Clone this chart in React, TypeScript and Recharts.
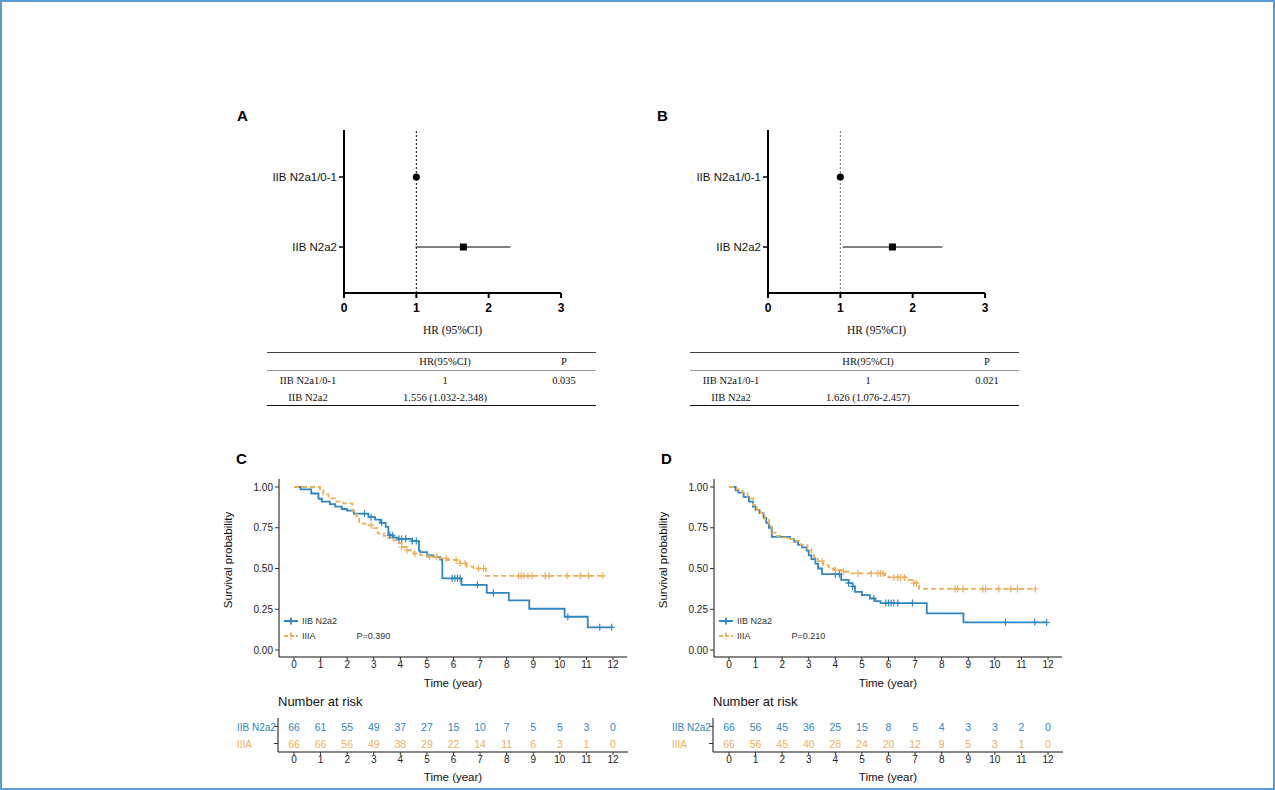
import React from 'react';
import {
  ScatterChart,
  Scatter,
  ComposedChart,
  Line,
  XAxis,
  YAxis,
  ReferenceLine,
  ErrorBar,
  Label,
} from 'recharts';

const BLUE = '#2F86C2';
const ORANGE = '#EDB05A';
const SANS = '"Liberation Sans", Arial, sans-serif';
const SERIF = '"Liberation Serif", "Times New Roman", serif';

// forest plots (A, B)
const forestRows = ['IIB N2a1/0-1', 'IIB N2a2'];
const hrA = [1, 1.65];
const ciLowA = [1, 0.99];
const ciHighA = [1, 2.3];
const hrB = [1, 1.72];
const ciLowB = [1, 1.03];
const ciHighB = [1, 2.41];
const forestTicks = [0, 1, 2, 3];

const tableHrA = ['1', '1.556 (1.032-2.348)'];
const tablePA = '0.035';
const tableHrB = ['1', '1.626 (1.076-2.457)'];
const tablePB = '0.021';

// survival curves (C, D): [time in years, survival]
const years = [0, 1, 2, 3, 4, 5, 6, 7, 8, 9, 10, 11, 12];
const survTicks = [0, 0.25, 0.5, 0.75, 1];
const groups = ['IIB N2a2', 'IIIA'];

const blueC: [number, number][] = [
  [0, 1], [0.25, 0.985], [0.65, 0.96], [0.92, 0.928], [1.05, 0.91], [1.35, 0.895],
  [1.55, 0.88], [1.8, 0.865], [2.0, 0.855], [2.25, 0.837], [2.8, 0.815], [3.05, 0.8],
  [3.25, 0.78], [3.45, 0.755], [3.55, 0.704], [3.75, 0.69], [3.9, 0.682], [4.45, 0.668],
  [4.7, 0.61], [4.75, 0.6], [5.0, 0.58], [5.25, 0.57], [5.5, 0.555], [5.58, 0.44],
  [6.3, 0.4], [7.25, 0.35], [8.08, 0.305], [8.85, 0.253], [10.18, 0.204], [11.05, 0.139],
  [11.95, 0.139],
];
const orangeC: [number, number][] = [
  [0, 1], [0.98, 0.98], [1.1, 0.955], [1.3, 0.93], [1.6, 0.91], [1.85, 0.9],
  [2.2, 0.85], [2.35, 0.82], [2.45, 0.775], [2.75, 0.765], [2.95, 0.748], [3.15, 0.715],
  [3.38, 0.7], [3.5, 0.69], [3.7, 0.672], [3.87, 0.655], [4.05, 0.632], [4.24, 0.612],
  [4.5, 0.592], [4.75, 0.582], [5.0, 0.572], [5.4, 0.562], [5.75, 0.552], [6.25, 0.532],
  [6.5, 0.512], [6.75, 0.5], [7.22, 0.455], [11.62, 0.455],
];
const blueCensC = [2.65, 2.9, 3.3, 3.6, 3.7, 3.95, 4.05, 4.2, 4.45, 4.6, 5.95, 6.05, 6.15, 6.25, 6.9, 7.5, 10.3, 11.5, 11.95];
const orangeCensC = [2.9, 4.05, 4.25, 4.55, 5.1, 5.37, 5.72, 6.1, 6.25, 6.44, 6.94, 7.13, 8.45, 8.55, 8.65, 8.8, 8.95, 9.45, 9.6, 10.27, 10.77, 11.08, 11.62];
const riskBlueC = [66, 61, 55, 49, 37, 27, 15, 10, 7, 5, 5, 3, 0];
const riskOrangeC = [66, 66, 56, 49, 38, 29, 22, 14, 11, 6, 3, 1, 0];

const blueD: [number, number][] = [
  [0, 1], [0.25, 0.98], [0.35, 0.965], [0.55, 0.94], [0.75, 0.91], [0.9, 0.88],
  [1.0, 0.86], [1.15, 0.84], [1.3, 0.81], [1.4, 0.78], [1.5, 0.75], [1.61, 0.694],
  [2.3, 0.68], [2.45, 0.665], [2.6, 0.645], [2.75, 0.63], [2.92, 0.61], [3.0, 0.58],
  [3.1, 0.558], [3.25, 0.53], [3.35, 0.5], [3.5, 0.465], [4.22, 0.43], [4.5, 0.41],
  [4.65, 0.39], [4.74, 0.357], [5.0, 0.337], [5.3, 0.316], [5.5, 0.3], [5.7, 0.288],
  [7.44, 0.225], [8.82, 0.17], [11.95, 0.17],
];
const orangeD: [number, number][] = [
  [0, 1], [0.3, 0.985], [0.5, 0.96], [0.7, 0.93], [0.9, 0.89], [1.05, 0.86],
  [1.2, 0.84], [1.35, 0.8], [1.5, 0.76], [1.6, 0.72], [1.75, 0.7], [2.0, 0.69],
  [2.3, 0.68], [2.5, 0.67], [2.7, 0.645], [2.95, 0.62], [3.1, 0.59], [3.2, 0.57],
  [3.35, 0.545], [3.55, 0.52], [3.75, 0.5], [3.95, 0.49], [4.3, 0.48], [4.6, 0.47],
  [5.85, 0.46], [6.0, 0.445], [6.75, 0.43], [6.95, 0.41], [7.15, 0.375], [11.52, 0.375],
];
const blueCensD = [4.0, 4.15, 4.5, 4.65, 5.45, 5.9, 6.0, 6.1, 6.2, 6.35, 6.9, 10.4, 11.5, 11.95];
const orangeCensD = [3.5, 4.0, 4.3, 4.85, 5.35, 5.6, 5.7, 5.8, 6.2, 6.35, 6.45, 6.6, 6.95, 7.05, 8.5, 8.6, 8.8, 9.55, 9.65, 10.15, 10.6, 10.85, 11.52];
const riskBlueD = [66, 56, 45, 36, 25, 15, 8, 5, 4, 3, 3, 2, 0];
const riskOrangeD = [66, 56, 45, 40, 28, 24, 20, 12, 9, 5, 3, 1, 0];

function survAt(curve: [number, number][], t: number) {
  let s = curve[0][1];
  for (const [x, y] of curve) if (x <= t) s = y;
  return s;
}

const circleShape = (p: any) => <circle cx={p.cx} cy={p.cy} r={3.6} fill="#000" />;
const squareShape = (p: any) => <rect x={p.cx - 3.5} y={p.cy - 3.5} width={7} height={7} fill="#000" />;
const plusShape = (color: string) => (p: any) => (
  <path d={`M${p.cx - 3},${p.cy}h6M${p.cx},${p.cy - 3.5}v7`} stroke={color} strokeWidth={1.2} />
);

function Forest({ left, hr, lo, hi, refColor }: any) {
  const rows = forestRows.map((label, i) => ({ label, hr: hr[i], ci: [hr[i] - lo[i], hi[i] - hr[i]] }));
  return (
    <div style={{ position: 'absolute', left, top: 120 }}>
      <ScatterChart width={360} height={230} margin={{ top: 10, right: 19, bottom: 0, left: 0 }}>
        <XAxis
          type="number"
          dataKey="hr"
          domain={[0, 3]}
          ticks={forestTicks}
          height={57}
          axisLine={{ stroke: '#000', strokeWidth: 2 }}
          tickLine={{ stroke: '#000', strokeWidth: 2 }}
          tickSize={5}
          tickMargin={5}
          tick={{ fill: '#000', fontSize: 12, fontWeight: 700 }}
        >
          <Label value="HR (95%CI)" position="insideBottom" offset={16} style={{ fontFamily: SERIF, fontSize: 11.5, fontWeight: 400, fill: '#111' }} />
        </XAxis>
        <YAxis
          type="category"
          dataKey="label"
          allowDuplicatedCategory={false}
          reversed
          interval={0}
          width={124}
          padding={{ top: 12, bottom: 11 }}
          axisLine={{ stroke: '#000', strokeWidth: 2 }}
          tickLine={{ stroke: '#000', strokeWidth: 1.5 }}
          tickSize={5}
          tickMargin={2}
          tick={{ fill: '#111', fontSize: 11.5 }}
        />
        <ReferenceLine x={1} stroke={refColor} strokeDasharray="2 2" />
        <Scatter data={rows.slice(0, 1)} shape={circleShape} isAnimationActive={false} />
        <Scatter data={rows.slice(1)} shape={squareShape} isAnimationActive={false}>
          <ErrorBar dataKey="ci" direction="x" width={0} stroke="#000" strokeWidth={1} />
        </Scatter>
      </ScatterChart>
    </div>
  );
}

function HrTable({ left, hrs, p }: any) {
  const cell = (text: string, cx: number, cy: number) => (
    <div style={{ position: 'absolute', left: cx - 90, top: cy - 7, width: 180, lineHeight: '14px', textAlign: 'center' }}>{text}</div>
  );
  return (
    <div style={{ position: 'absolute', left, top: 352, width: 329, height: 54, fontFamily: SERIF, fontSize: 10.5, color: '#111' }}>
      <div style={{ position: 'absolute', left: 0, right: 0, top: 0, borderTop: '1px solid #444' }} />
      <div style={{ position: 'absolute', left: 0, right: 0, top: 18, borderTop: '1px solid #999' }} />
      <div style={{ position: 'absolute', left: 0, right: 0, top: 53, borderTop: '1.5px solid #111' }} />
      {cell('HR(95%CI)', 178, 10)}
      {cell('P', 297, 10)}
      {cell(forestRows[0], 41, 29)}
      {cell(hrs[0], 178, 29)}
      {cell(p, 297, 29)}
      {cell(forestRows[1], 41, 46)}
      {cell(hrs[1], 178, 46)}
    </div>
  );
}

function KM({ left, blue, orange, blueCens, orangeCens, pText }: any) {
  const pts = (c: [number, number][]) => c.map(([t, s]) => ({ t, s }));
  const cens = (c: [number, number][], ts: number[]) => ts.map((t) => ({ t, s: survAt(c, t) }));
  const axisText = { fill: '#222', fontSize: 10 };
  return (
    <div style={{ position: 'absolute', left, top: 470 }}>
      <ComposedChart width={420} height={220} margin={{ top: 9, right: 13, bottom: 0, left: 0 }}>
        <XAxis
          type="number"
          dataKey="t"
          domain={[0, 12]}
          ticks={years}
          padding={{ left: 15, right: 14 }}
          height={33}
          axisLine={{ stroke: '#111' }}
          tickLine={{ stroke: '#333' }}
          tickSize={3}
          tickMargin={1}
          tick={axisText}
        >
          <Label value="Time (year)" position="insideBottom" offset={3} style={{ fontSize: 11.5, fill: '#111' }} />
        </XAxis>
        <YAxis
          type="number"
          domain={[0, 1]}
          ticks={survTicks}
          tickFormatter={(v: number) => v.toFixed(2)}
          width={59}
          padding={{ top: 8, bottom: 7 }}
          axisLine={{ stroke: '#111' }}
          tickLine={{ stroke: '#333' }}
          tickSize={4}
          tickMargin={2}
          tick={axisText}
        >
          <Label value="Survival probability" angle={-90} position="insideLeft" offset={8} dy={-8} style={{ textAnchor: 'middle', fontSize: 11.5, fill: '#111' }} />
        </YAxis>
        <Line data={pts(blue)} dataKey="s" type="stepAfter" stroke={BLUE} strokeWidth={1.8} dot={false} isAnimationActive={false} />
        <Line data={pts(orange)} dataKey="s" type="stepAfter" stroke={ORANGE} strokeWidth={1.8} strokeDasharray="5 3" dot={false} isAnimationActive={false} />
        <Scatter data={cens(blue, blueCens)} dataKey="s" shape={plusShape(BLUE)} isAnimationActive={false} />
        <Scatter data={cens(orange, orangeCens)} dataKey="s" shape={plusShape(ORANGE)} isAnimationActive={false} />
      </ComposedChart>
      <div style={{ position: 'absolute', left: 63, top: 144, fontSize: 9, color: '#333', lineHeight: '14px' }}>
        <div style={{ display: 'flex', alignItems: 'center' }}>
          <svg width={16} height={10}><path d="M1,5h14M8,1.5v7" stroke={BLUE} strokeWidth={1.8} /></svg>
          <span style={{ marginLeft: 3 }}>{groups[0]}</span>
        </div>
        <div style={{ display: 'flex', alignItems: 'center', marginTop: 1 }}>
          <svg width={16} height={10}><path d="M1,5h14M8,1.5v7" stroke={ORANGE} strokeWidth={1.8} strokeDasharray="4 2" /></svg>
          <span style={{ marginLeft: 3 }}>{groups[1]}</span>
          <span style={{ marginLeft: 41 }}>{pText}</span>
        </div>
      </div>
    </div>
  );
}

function RiskTable({ left, blueN, orangeN }: any) {
  const rowData = (row: string, arr: number[]) => years.map((t, i) => ({ t, row, n: arr[i] }));
  const numShape = (color: string) => (p: any) => (
    <text x={p.cx} y={p.cy} dy={4} textAnchor="middle" fill={color} fontSize={10.5}>{p.payload.n}</text>
  );
  // row labels are left-justified, as in the source figure
  const rowTick = (p: any) => (
    <text x={p.x - 36} y={p.y} dy={4} textAnchor="start" fontSize={10} fill={p.payload.value === groups[0] ? BLUE : ORANGE}>
      {p.payload.value}
    </text>
  );
  return (
    <div style={{ position: 'absolute', left, top: 710 }}>
      <div style={{ position: 'absolute', left: 58, top: -16, fontSize: 13, color: '#111', whiteSpace: 'nowrap' }}>Number at risk</div>
      <ScatterChart width={420} height={76} margin={{ top: 8, right: 12, bottom: 0, left: 0 }}>
        <XAxis
          type="number"
          dataKey="t"
          domain={[0, 12]}
          ticks={years}
          padding={{ left: 16, right: 15 }}
          height={34}
          axisLine={{ stroke: '#111' }}
          tickLine={{ stroke: '#333' }}
          tickSize={3}
          tickMargin={1}
          tick={{ fill: '#222', fontSize: 10 }}
        >
          <Label value="Time (year)" position="insideBottom" offset={5} style={{ fontSize: 11.5, fill: '#111' }} />
        </XAxis>
        <YAxis
          type="category"
          dataKey="row"
          allowDuplicatedCategory={false}
          reversed
          interval={0}
          width={58}
          axisLine={{ stroke: '#111' }}
          tickLine={{ stroke: '#333' }}
          tickSize={4}
          tickMargin={1}
          tick={rowTick}
        />
        <Scatter data={rowData(groups[0], blueN)} shape={numShape(BLUE)} isAnimationActive={false} />
        <Scatter data={rowData(groups[1], orangeN)} shape={numShape(ORANGE)} isAnimationActive={false} />
      </ScatterChart>
    </div>
  );
}

const panelLabel = (text: string, x: number, y: number) => (
  <div style={{ position: 'absolute', left: x - 6, top: y - 9, fontSize: 15, fontWeight: 700, color: '#000' }}>{text}</div>
);

export default function App() {
  return (
    <div style={{ position: 'fixed', left: 0, top: 0, width: 1275, height: 790, background: '#fff', fontFamily: SANS }}>
      <div style={{ position: 'absolute', left: 0, top: 0, width: 1275, height: 790, boxSizing: 'border-box', border: '2px solid #5B9BD5' }} />
      {panelLabel('A', 243, 116)}
      {panelLabel('B', 663, 116)}
      {panelLabel('C', 242, 459)}
      {panelLabel('D', 667, 459)}
      <Forest left={220} hr={hrA} lo={ciLowA} hi={ciHighA} refColor="#000" />
      <Forest left={644} hr={hrB} lo={ciLowB} hi={ciHighB} refColor="#666" />
      <HrTable left={267} hrs={tableHrA} p={tablePA} />
      <HrTable left={690} hrs={tableHrB} p={tablePB} />
      <KM left={220} blue={blueC} orange={orangeC} blueCens={blueCensC} orangeCens={orangeCensC} pText="P=0.390" />
      <KM left={655} blue={blueD} orange={orangeD} blueCens={blueCensD} orangeCens={orangeCensD} pText="P=0.210" />
      <RiskTable left={220} blueN={riskBlueC} orangeN={riskOrangeC} />
      <RiskTable left={655} blueN={riskBlueD} orangeN={riskOrangeD} />
    </div>
  );
}
